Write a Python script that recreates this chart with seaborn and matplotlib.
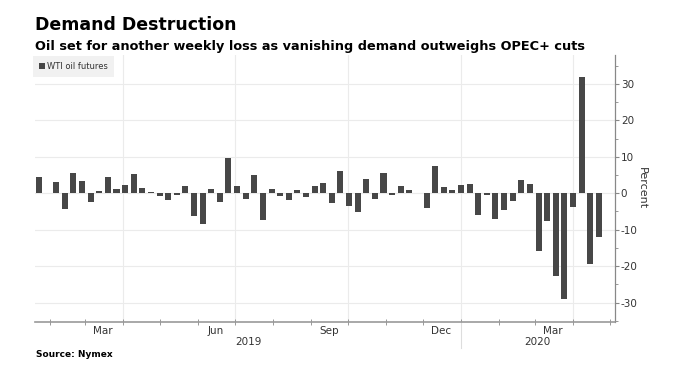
import matplotlib
matplotlib.use('Agg')
import matplotlib.pyplot as plt
import matplotlib.transforms as mtransforms
from matplotlib.ticker import MultipleLocator
import seaborn as sns
import numpy as np
import pandas as pd

plt.rcParams['axes.unicode_minus'] = False

# Weekly % change of WTI oil futures, weeks ending on Fridays
first_week = "2019-01-18"
wti_change = [
    4.5, 0.2, 3.1, -4.3, 5.6, 3.3, -2.4, 0.7, 4.5, 1.1,
    2.2, 5.2, 1.4, 0.3, -0.8, -1.9, -0.5, 2.0, -6.2, -8.5,
    1.1, -2.5, 9.6, 2.0, -1.5, 5.0, -7.3, 1.2, -0.7, -1.8,
    0.8, -1.1, 1.9, 2.8, -2.7, 6.0, -3.5, -5.2, 3.8, -1.6,
    5.5, -0.5, 2.0, 1.0, 0.1, -4.1, 7.5, 1.7, 0.8, 2.2,
    2.4, -6.1, -0.6, -7.0, -4.6, -2.1, 3.6, 2.6, -15.9, -7.6,
    -22.8, -29.0, -3.8, 31.9, -19.4, -11.9,
]

month_labels = ["Mar", "Jun", "Sep", "Dec", "Mar"]
month_label_dates = ["2019-03-16", "2019-06-16", "2019-09-16", "2019-12-16", "2020-03-16"]
quarter_dates = ["2019-04-01", "2019-07-01", "2019-10-01", "2020-01-01", "2020-04-01"]
year_labels = ["2019", "2020"]
year_start = "2020-01-01"

weeks = pd.date_range(first_week, periods=len(wti_change), freq="7D")
df = pd.DataFrame({"pos": np.arange(len(weeks)), "change": wti_change})

# bloomberg draws each weekly bar a few days after the week date
bar_shift = pd.Timedelta(days=5)


def date_pos(d):
    return (pd.Timestamp(d) - weeks[0] - bar_shift).days / 7.0


fig = plt.figure(figsize=(6.91, 3.69), dpi=100)
ax = fig.add_axes([0.0507, 0.1274, 0.8386, 0.7235])

sns.barplot(data=df, x="pos", y="change", color="#474747", saturation=1,
            width=0.7, errorbar=None, linewidth=0, label="WTI oil futures", ax=ax)

ax.set_xlim(-0.46, 66.82)
ax.set_ylim(-35.3, 37.9)

# grid
ax.set_axisbelow(True)
ax.yaxis.grid(True, color="#ebebeb", lw=0.8)
for d in quarter_dates:
    ax.axvline(date_pos(d), color="#ebebeb", lw=0.8, zorder=0)

# y axis on the right
ax.yaxis.tick_right()
ax.yaxis.set_label_position("right")
ax.yaxis.set_major_locator(MultipleLocator(10))
ax.yaxis.set_minor_locator(MultipleLocator(5))
ax.tick_params(axis="y", which="major", direction="out", length=3, color="#888888",
               labelsize=7.5, labelcolor="#333333", pad=1.5)
ax.tick_params(axis="y", which="minor", direction="out", length=2, color="#888888")

# x axis: month labels mid-month, small ticks at month starts
month_starts = pd.date_range("2019-02-01", "2020-05-01", freq="MS")
ax.set_xticks([date_pos(d) for d in month_starts], minor=True)
ax.set_xticks([date_pos(d) for d in month_label_dates], month_labels)
ax.tick_params(axis="x", which="major", length=0, labelsize=7.5, labelcolor="#333333", pad=3)
ax.tick_params(axis="x", which="minor", direction="inout", length=4, color="#888888")
ax.set_xlabel("")
ax.set_ylabel("Percent", rotation=-90, fontsize=8, color="#333333", labelpad=7)

for side in ["top", "left"]:
    ax.spines[side].set_visible(False)
ax.spines["bottom"].set_color("#999999")
ax.spines["bottom"].set_linewidth(1.2)
ax.spines["right"].set_color("#888888")
ax.spines["right"].set_linewidth(0.9)

# year row under the month labels
blend = mtransforms.blended_transform_factory(ax.transData, fig.transFigure)
x0, x1 = ax.get_xlim()
split = date_pos(year_start)
for lab, xc in zip(year_labels, [(x0 + split) / 2, (split + x1) / 2]):
    ax.text(xc, 1 - 342 / 369, lab, transform=blend, ha="center", va="center",
            fontsize=7.5, color="#333333")
ax.plot([split, split], [0.1274, 1 - 348 / 369], transform=blend, clip_on=False,
        color="#dddddd", lw=0.8)

leg = ax.legend(loc="upper left", bbox_to_anchor=(-0.003, 0.995), fontsize=6,
                frameon=True, fancybox=False, facecolor="#eeeeee", edgecolor="none",
                handlelength=0.7, handleheight=0.7, handletextpad=0.3,
                borderpad=0.7, borderaxespad=0)
leg.get_frame().set_linewidth(0)
for t in leg.get_texts():
    t.set_color("#333333")

fig.text(35 / 691, 1 - 30 / 369, "Demand Destruction", fontsize=12.5,
         fontweight="bold", va="baseline", ha="left", color="black")
fig.text(35 / 691, 1 - 50 / 369,
         "Oil set for another weekly loss as vanishing demand outweighs OPEC+ cuts",
         fontsize=9.3, fontweight="bold", va="baseline", ha="left", color="black")
fig.text(36 / 691, 1 - 357 / 369, "Source: Nymex", fontsize=6.5,
         fontweight="bold", va="baseline", ha="left", color="black")

fig.savefig("out.png", dpi=100)
plt.close(fig)
